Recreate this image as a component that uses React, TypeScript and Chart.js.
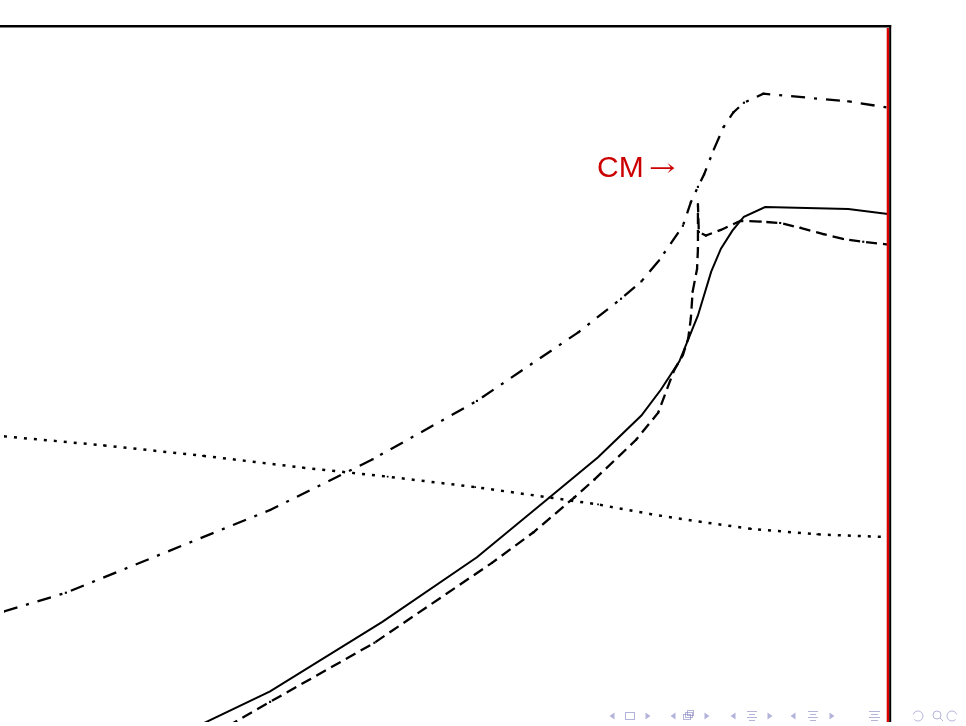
import React, { useEffect, useRef } from "react";
import { Chart, registerables } from "chart.js";

Chart.register(...registerables);

// Dash-dot curve
const dashDotX = [0, 7.0, 30.1, 41.7, 53.5, 65.0, 69.8, 72.1, 74.1, 76.8, 77.7, 78.5, 79.2, 80.3, 81.4, 82.5, 83.7, 85.9, 95.5, 100];
const dashDotY = [15.9, 18.6, 30.5, 37.8, 46.2, 56.1, 60.9, 63.4, 66.4, 71.4, 74.8, 77.0, 78.8, 82.4, 85.6, 87.7, 89.1, 90.4, 89.3, 88.4];

// Solid curve
const solidX = [21.4, 30.1, 42.8, 53.5, 61.7, 67.2, 72.1, 74.3, 76.4, 78.5, 80.0, 81.1, 82.4, 83.7, 86.1, 95.5, 100];
const solidY = [-0.9, 4.4, 14.4, 23.7, 32.3, 38.1, 44.1, 47.8, 51.9, 58.5, 64.8, 68.1, 70.7, 72.7, 74.1, 73.8, 73.1];

// Dashed curve (with the sharp spike near the CM point)
const dashedX = [25.3, 30.1, 41.9, 55.2, 59.9, 64.5, 66.8, 71.5, 74.0, 75.8, 76.8, 77.4, 77.7, 77.9, 78.4, 78.5, 78.5, 78.6, 79.4, 81.1, 83.3, 85.6, 87.8, 90.1, 92.7, 94.9, 97.2, 100];
const dashedY = [-0.6, 2.9, 11.4, 22.9, 27.3, 32.3, 34.9, 40.6, 44.5, 50.6, 52.8, 55.2, 58.1, 61.9, 65.2, 68.1, 74.5, 70.5, 70.0, 70.8, 72.1, 72.0, 71.8, 71.1, 70.2, 69.5, 69.1, 68.7];

// Dotted curve
const dottedX = [0, 11.3, 22.5, 33.8, 43.4, 53.3, 61.7, 67.2, 73.2, 78.8, 84.5, 92.0, 100];
const dottedY = [41.1, 39.8, 38.3, 36.6, 35.3, 33.8, 32.3, 31.3, 29.9, 28.8, 27.8, 27.0, 26.6];

const markerLabel = "CM";
const markerArrow = "→";

const pts = (xs: number[], ys: number[]) => xs.map((x, i) => ({ x, y: ys[i] }));

const navColor = "rgba(140,140,200,0.65)";

function drawNav(ctx: CanvasRenderingContext2D) {
  ctx.save();
  ctx.strokeStyle = navColor;
  ctx.fillStyle = navColor;
  ctx.lineWidth = 1;
  const y = 716;
  const triL = (x: number) => {
    ctx.beginPath();
    ctx.moveTo(x - 2.5, y);
    ctx.lineTo(x + 2.5, y - 3.5);
    ctx.lineTo(x + 2.5, y + 3.5);
    ctx.closePath();
    ctx.fill();
  };
  const triR = (x: number) => {
    ctx.beginPath();
    ctx.moveTo(x + 2.5, y);
    ctx.lineTo(x - 2.5, y - 3.5);
    ctx.lineTo(x - 2.5, y + 3.5);
    ctx.closePath();
    ctx.fill();
  };
  const lines = (x: number, w: number) => {
    for (let i = 0; i < 4; i++) {
      ctx.beginPath();
      ctx.moveTo(x + (i % 2 ? 2 : 0), y - 4.5 + i * 3);
      ctx.lineTo(x + w - (i % 2 ? 2 : 0), y - 4.5 + i * 3);
      ctx.stroke();
    }
  };
  // first group
  triL(612);
  ctx.strokeRect(625.5, 712.5, 9, 7);
  triR(648);
  // second group
  triL(673);
  ctx.strokeRect(683.5, 714.5, 7, 5);
  ctx.strokeRect(685.5, 712.5, 7, 5);
  ctx.strokeRect(687.5, 710.5, 6, 5);
  triR(707);
  // third group
  triL(733);
  lines(747, 10);
  triR(770);
  // fourth group
  triL(793);
  lines(808, 10);
  triR(832);
  // single
  lines(869, 11);
  // back / search / forward
  ctx.beginPath();
  ctx.arc(918, 716, 5, Math.PI * 1.1, Math.PI * 0.75, false);
  ctx.stroke();
  ctx.beginPath();
  ctx.arc(937, 715, 4, 0, Math.PI * 2);
  ctx.stroke();
  ctx.beginPath();
  ctx.moveTo(940, 718);
  ctx.lineTo(943, 721);
  ctx.stroke();
  ctx.beginPath();
  ctx.arc(952, 716, 5, Math.PI * 0.25, Math.PI * 1.9, false);
  ctx.stroke();
  ctx.restore();
}

const framePlugin = {
  id: "frame",
  afterDraw(chart: any) {
    const { ctx, chartArea, scales } = chart;
    const xr = scales.x.getPixelForValue(100);
    ctx.save();
    // red vertical line at the right end of the range
    ctx.strokeStyle = "rgb(220,0,0)";
    ctx.lineWidth = 2.6;
    ctx.beginPath();
    ctx.moveTo(xr, chartArea.top + 1);
    ctx.lineTo(xr, chartArea.bottom);
    ctx.stroke();
    // box edges
    ctx.strokeStyle = "#000";
    ctx.lineWidth = 2;
    ctx.beginPath();
    ctx.moveTo(xr + 2.2, chartArea.top - 2);
    ctx.lineTo(xr + 2.2, chartArea.bottom);
    ctx.stroke();
    ctx.lineWidth = 2.6;
    ctx.beginPath();
    ctx.moveTo(0, chartArea.top - 0.8);
    ctx.lineTo(xr + 3.2, chartArea.top - 0.8);
    ctx.stroke();

    // CM label
    ctx.fillStyle = "rgb(204,0,0)";
    ctx.textBaseline = "alphabetic";
    ctx.font = '30px "Liberation Sans", Arial, sans-serif';
    ctx.fillText(markerLabel, 597, 177);
    ctx.font = '30px "DejaVu Serif", serif';
    ctx.save();
    ctx.translate(649, 176);
    ctx.scale(1.05, 0.8);
    ctx.fillText(markerArrow, 0, 0);
    ctx.restore();

    drawNav(ctx);
    ctx.restore();
  },
};

export default function App() {
  const ref = useRef<HTMLCanvasElement | null>(null);

  useEffect(() => {
    if (!ref.current) return;
    const common = {
      borderColor: "#000",
      borderWidth: 2.3,
      tension: 0,
      fill: false,
      pointStyle: "rect" as const,
      pointRadius: 1.5,
      pointBackgroundColor: "#000",
      pointBorderColor: "#000",
      pointBorderWidth: 0,
    };
    const chart = new Chart(ref.current, {
      type: "line",
      data: {
        datasets: [
          { ...common, label: "dash-dot", data: pts(dashDotX, dashDotY), borderDash: [14, 9, 3, 9] },
          { ...common, label: "solid", data: pts(solidX, solidY), borderWidth: 2, pointRadius: 0 },
          { ...common, label: "dashed", data: pts(dashedX, dashedY), borderDash: [11, 6] },
          { ...common, label: "dotted", data: pts(dottedX, dottedY), borderWidth: 2.5, borderDash: [3, 7], pointRadius: 1.2 },
        ],
      },
      options: {
        animation: false,
        responsive: false,
        devicePixelRatio: 1,
        layout: { padding: { left: 0, top: 27, right: 78, bottom: 0 } },
        plugins: { legend: { display: false }, tooltip: { enabled: false } },
        scales: {
          x: { type: "linear", min: 0, max: 100, display: false },
          y: { type: "linear", min: 0, max: 100, display: false },
        },
      },
      plugins: [framePlugin],
    });
    return () => chart.destroy();
  }, []);

  return (
    <div style={{ position: "fixed", left: 0, top: 0, width: 966, height: 726, background: "#fff" }}>
      <canvas ref={ref} width={966} height={726} style={{ display: "block", width: 966, height: 726 }} />
    </div>
  );
}
